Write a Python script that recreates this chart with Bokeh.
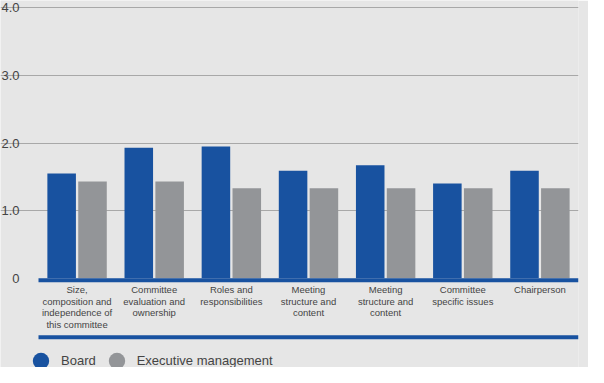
from bokeh.plotting import figure
from bokeh.models import (Range1d, FixedTicker, BoxAnnotation, Legend, LegendItem,
                          ColumnDataSource)
from bokeh.transform import dodge
from bokeh.embed import file_html
from bokeh.resources import INLINE

# ---- data ----
categories = [
    "Size,\ncomposition and\nindependence of\nthis committee",
    "Committee\nevaluation and\nownership",
    "Roles and\nresponsibilities",
    "Meeting\nstructure and\ncontent",
    "Meeting\nstructure and\ncontent",
    "Committee\nspecific issues",
    "Chairperson",
]
board = [1.55, 1.93, 1.95, 1.59, 1.67, 1.40, 1.59]
executive = [1.43, 1.43, 1.33, 1.33, 1.33, 1.33, 1.33]
y_ticks = [0, 1, 2, 3, 4]
y_tick_labels = ["0", "1.0", "2.0", "3.0", "4.0"]
series_names = ["Board", "Executive management"]

# ---- style ----
BG = "#e6e6e6"
BLUE = "#1852a0"
GREY = "#939598"
GRID = "#a8a8a8"
TEXT = "#444444"
FONT = "Liberation Sans"

n = len(categories)
pos = [i + 0.5 for i in range(n)]
src = ColumnDataSource(dict(x=pos, board=board, executive=executive))

# frame covers the whole canvas; the plotting area proper spans x = 0..n
p = figure(width=588, height=367, output_backend="svg", toolbar_location=None,
           x_range=Range1d(-0.4926, n), y_range=Range1d(-1.321, 4.108),
           min_border_left=0, min_border_right=10, min_border_top=0, min_border_bottom=0,
           background_fill_color=BG, border_fill_color=BG, outline_line_color=None)

p.vbar(x=dodge("x", -0.2), top="board", width=0.37, source=src,
       fill_color=BLUE, line_color=None)
p.vbar(x=dodge("x", 0.2), top="executive", width=0.37, source=src,
       fill_color=GREY, line_color=None)

# baseline and bottom rule
p.add_layout(BoxAnnotation(left=0, right=n, top=0, bottom=-0.059,
                           fill_color=BLUE, fill_alpha=1, line_color=None))
p.add_layout(BoxAnnotation(left=0, right=n, top=-0.8434, bottom=-0.9026,
                           fill_color=BLUE, fill_alpha=1, line_color=None))

# grid
p.xgrid.visible = False
p.ygrid.ticker = FixedTicker(ticks=y_ticks[1:])
p.ygrid.bounds = (0, n)
p.ygrid.grid_line_color = GRID
p.ygrid.grid_line_width = 1

# y axis
p.yaxis.fixed_location = 0
p.yaxis.ticker = FixedTicker(ticks=y_ticks)
p.yaxis.major_label_overrides = {t: l for t, l in zip(y_ticks, y_tick_labels)}
p.yaxis.axis_line_color = None
p.yaxis.major_tick_line_color = None
p.yaxis.minor_tick_line_color = None
p.yaxis.major_tick_out = 0
p.yaxis.major_tick_in = 0
p.yaxis.major_label_standoff = 19
p.yaxis.major_label_text_font = FONT
p.yaxis.major_label_text_font_size = "13px"
p.yaxis.major_label_text_color = TEXT

# x axis (category labels)
p.xaxis.fixed_location = 0
p.xaxis.ticker = FixedTicker(ticks=pos)
p.xaxis.major_label_overrides = {x: c for x, c in zip(pos, categories)}
p.xaxis.axis_line_color = None
p.xaxis.major_tick_line_color = None
p.xaxis.minor_tick_line_color = None
p.xaxis.major_tick_out = 0
p.xaxis.major_tick_in = 0
p.xaxis.major_label_standoff = 6
p.xaxis.major_label_text_font = FONT
p.xaxis.major_label_text_font_size = "9.5px"
p.xaxis.major_label_text_line_height = 1.05
p.xaxis.major_label_text_color = TEXT

# legend with circle markers (legend-only renderers, no visible points)
nan = float("nan")
r1 = p.scatter(x=[nan], y=[nan], marker="circle", size=16, fill_color=BLUE, line_color=None)
r2 = p.scatter(x=[nan], y=[nan], marker="circle", size=16, fill_color=GREY, line_color=None)
legend = Legend(items=[LegendItem(label=series_names[0], renderers=[r1]),
                       LegendItem(label=series_names[1], renderers=[r2])],
                orientation="horizontal", location=(20, -14),
                glyph_width=41, glyph_height=41, label_standoff=0, spacing=0,
                padding=0, margin=0, border_line_color=None, background_fill_alpha=0,
                label_text_font=FONT, label_text_font_size="13px", label_text_color=TEXT)
p.add_layout(legend)

open("out.html", "w").write(file_html(p, INLINE))
